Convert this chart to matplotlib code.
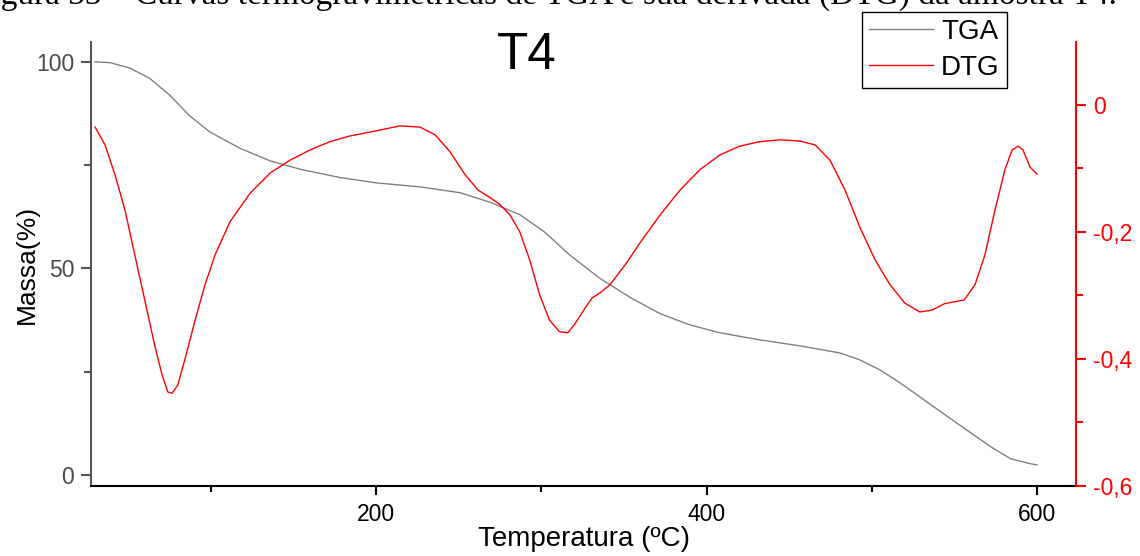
import matplotlib
matplotlib.use('Agg')
import matplotlib.pyplot as plt
from matplotlib.ticker import MultipleLocator, FuncFormatter

# TGA (mass %) vs temperature
tga_temp = [30, 39, 51, 63, 75, 87, 99.5, 118, 136, 154, 178, 200, 227, 251, 269,
            287, 302, 317, 335, 354, 372, 390, 408, 432, 457, 481, 493, 505, 517,
            535, 553, 572, 584, 596, 600]
tga_mass = [100, 99.8, 98.5, 96, 92, 87, 83, 79, 76, 74, 72, 70.7, 69.7, 68.3, 66,
            63, 58.8, 53.3, 47.7, 42.9, 39, 36.3, 34.4, 32.7, 31.2, 29.5, 27.8, 25.4,
            22.3, 17.2, 12.1, 6.8, 3.9, 2.7, 2.4]

# DTG vs temperature
dtg_temp = [30, 36, 42, 48, 54, 60, 66, 70.5, 74, 76.6, 80, 84.4, 90.5, 96.5, 102.6,
            111.6, 123.8, 136, 148, 160, 172, 184, 200, 214.5, 226.6, 235.7, 244.8,
            253.9, 261.7, 269, 275, 281, 287, 293, 299, 305, 311, 316, 320, 326.5,
            330.7, 335.5, 341.6, 350.7, 359.8, 372, 384, 396, 408, 420, 432, 444.5,
            456.6, 465.7, 474.7, 483.8, 493, 502, 511, 520, 529, 536.5, 544, 550, 556,
            562.5, 568.5, 574.6, 580.6, 584.9, 588.5, 591.5, 595.8, 600]
dtg_val = [-0.035, -0.063, -0.11, -0.165, -0.236, -0.307, -0.378, -0.425, -0.452, -0.454,
           -0.441, -0.40, -0.339, -0.283, -0.236, -0.184, -0.139, -0.107, -0.087, -0.071,
           -0.058, -0.049, -0.041, -0.033, -0.035, -0.047, -0.074, -0.11, -0.134, -0.146,
           -0.157, -0.173, -0.2, -0.244, -0.299, -0.339, -0.357, -0.359, -0.346, -0.32,
           -0.304, -0.296, -0.283, -0.252, -0.217, -0.173, -0.134, -0.102, -0.079, -0.065,
           -0.058, -0.055, -0.057, -0.063, -0.087, -0.134, -0.194, -0.244, -0.283, -0.312,
           -0.326, -0.323, -0.313, -0.310, -0.307, -0.283, -0.236, -0.165, -0.102, -0.071,
           -0.065, -0.071, -0.098, -0.109]

plt.rcParams['font.family'] = ['Liberation Sans', 'DejaVu Sans']

W, H = 1140, 556
fig = plt.figure(figsize=(W / 100, H / 100), dpi=100)
ax = fig.add_axes([91 / W, 70 / H, (1076 - 91) / W, (486 - 42) / H])
ax2 = ax.twinx()

l1, = ax.plot(tga_temp, tga_mass, color='#808080', lw=1.0, label='TGA')
l2, = ax2.plot(dtg_temp, dtg_val, color='red', lw=1.0, label='DTG')

ax.set_xlim(27.5, 623.6)
ax.set_ylim(-2.7, 104.8)
ax2.set_ylim(-0.6, 0.099)

ax.xaxis.set_major_locator(MultipleLocator(200))
ax.xaxis.set_minor_locator(MultipleLocator(100))
ax.yaxis.set_major_locator(MultipleLocator(50))
ax.yaxis.set_minor_locator(MultipleLocator(25))
ax2.yaxis.set_major_locator(MultipleLocator(0.2))
ax2.yaxis.set_minor_locator(MultipleLocator(0.1))
ax2.yaxis.set_major_formatter(FuncFormatter(
    lambda v, p: '0' if abs(v) < 1e-9 else ('%.1f' % v).replace('.', ',')))

for a in (ax, ax2):
    a.spines['top'].set_visible(False)
ax.spines['right'].set_visible(False)
ax2.spines['left'].set_visible(False)
ax2.spines['bottom'].set_visible(False)

ax.spines['left'].set_color('#555555')
ax.spines['left'].set_linewidth(1.5)
ax.spines['bottom'].set_linewidth(1.5)
ax2.spines['right'].set_color('red')
ax2.spines['right'].set_linewidth(1.5)

ax.tick_params(axis='x', which='major', length=6.5, width=1.5, labelsize=16.5, pad=6)
ax.tick_params(axis='x', which='minor', length=4, width=1.5)
ax.tick_params(axis='y', which='major', length=7, width=1.5, labelsize=16.5,
               colors='#555555', labelcolor='#4a4a4a', pad=5)
ax.tick_params(axis='y', which='minor', length=5, width=1.5, colors='#555555')
ax2.tick_params(axis='y', which='major', length=7, width=1.5, labelsize=16.5,
                colors='red', pad=5)
ax2.tick_params(axis='y', which='minor', length=5, width=1.5, colors='red')

ax.set_xlabel('Temperatura (ºC)', fontsize=20, labelpad=0)
ax.set_ylabel('Massa(%)', fontsize=19, labelpad=-2)

fig.text(527 / W, 1 - 69 / H, 'T4', ha='center', va='baseline', fontsize=37)

fig.legend(handles=[l1, l2], loc='upper left', bbox_to_anchor=(862 / W, 1 - 12 / H),
           fontsize=20, frameon=True, fancybox=False, edgecolor='black',
           framealpha=1, handlelength=2.3, borderpad=0.25, labelspacing=0.35,
           handletextpad=0.3, borderaxespad=0)

# caption of the source page, cut off at the top edge as in the original
fig.text(-27 / W, 1 - 4 / H,
         'Figura 33 – Curvas termogravimétricas de TGA e sua derivada (DTG) da amostra T4.',
         family='Liberation Serif', fontsize=24, va='baseline', ha='left')

fig.savefig('out.png', dpi=100)
